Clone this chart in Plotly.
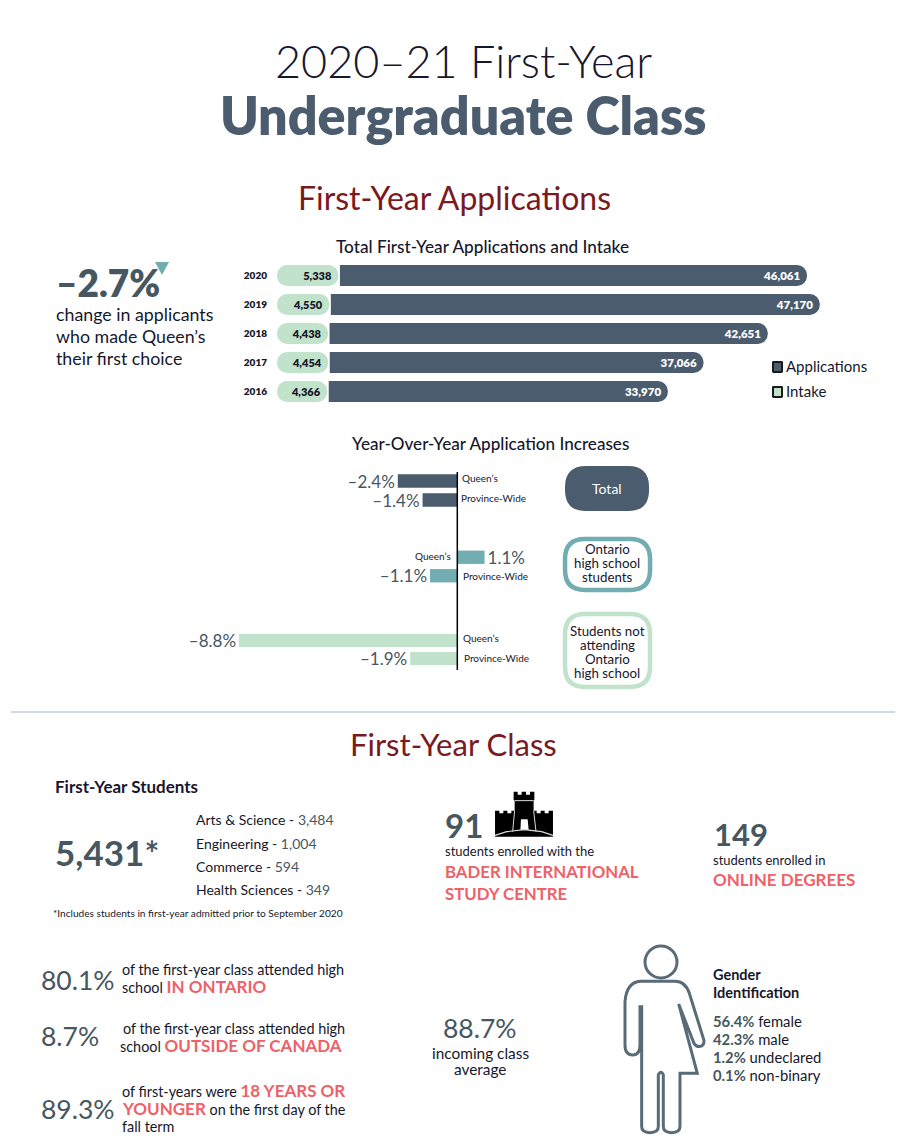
import plotly.graph_objects as go

W = 921
H = 1141

# applications chart
years = ["2020", "2019", "2018", "2017", "2016"]
applications = [46061, 47170, 42651, 37066, 33970]
intake = [5338, 4550, 4438, 4454, 4366]

# year over year chart
yoy_labels = ["Queen's", "Province-Wide"]
yoy_total = [-2.4, -1.4]
yoy_ontario = [1.1, -1.1]
yoy_other = [-8.8, -1.9]

faculties = ["Arts &amp; Science", "Engineering", "Commerce", "Health Sciences"]
faculty_counts = ["3,484", "1,004", "594", "349"]
gender_labels = ["female", "male", "undeclared", "non-binary"]
gender_values = [56.4, 42.3, 1.2, 0.1]

DARK = "#4a5c6d"
TEAL = "#72adb2"
GREEN = "#c1e2cb"
RED = "#7a1a1f"
CORAL = "#ee6168"
GREY = "#47575f"
INK = "#17172b"
FONT = "Lato"


def px(x):
    return x / W


def py(y):
    return 1 - y / H


def pct(v):
    return ("\u2013" if v < 0 else "") + "%.1f%%" % abs(v)


fig = go.Figure()

fig.add_trace(go.Bar(
    y=years, x=applications, orientation="h", xaxis="x", yaxis="y",
    marker=dict(color=DARK, cornerradius=10, line=dict(width=0)),
    text=["{:,}".format(v) for v in applications],
    textposition="inside", insidetextanchor="end", textangle=0,
    insidetextfont=dict(color="white", size=11.5, family=FONT, weight=800),
    cliponaxis=False, showlegend=False,
))
# white halo round the end of the intake pill
fig.add_trace(go.Bar(
    y=years, x=[v + 130 for v in intake], orientation="h", xaxis="x", yaxis="y",
    marker=dict(color="white", cornerradius=10, line=dict(width=0)),
    cliponaxis=False, showlegend=False,
))
# an explicit base makes plotly round both ends of the bar
fig.add_trace(go.Bar(
    y=years, x=intake, base=[0] * len(intake), orientation="h", xaxis="x", yaxis="y",
    marker=dict(color=GREEN, cornerradius=10, line=dict(width=0)),
    text=["{:,}".format(v) for v in intake],
    textposition="inside", insidetextanchor="end", textangle=0,
    insidetextfont=dict(color=INK, size=11, family=FONT, weight=800),
    cliponaxis=False, showlegend=False,
))

groups = [(yoy_total, DARK, "y2"), (yoy_ontario, TEAL, "y3"), (yoy_other, GREEN, "y4")]
for vals, col, ax in groups:
    fig.add_trace(go.Bar(
        y=yoy_labels, x=vals, orientation="h", xaxis="x2", yaxis=ax,
        marker=dict(color=col, line=dict(width=0)),
        text=[pct(v) for v in vals], textposition="outside", textangle=0, constraintext="none",
        outsidetextfont=dict(color=GREY, size=17, family=FONT),
        cliponaxis=False, showlegend=False,
    ))

annotations = []


def note(x, y, text, size=14, color=INK, anchor="left", weight=400):
    annotations.append(dict(
        xref="paper", yref="paper", x=px(x), y=py(y - 1), text=text, showarrow=False,
        xanchor=anchor, yanchor="middle", align=anchor, borderpad=0, borderwidth=0,
        font=dict(family=FONT, size=size, color=color, weight=weight),
    ))


def hot(text, size=None):
    s = "font-size:%dpx;" % size if size else ""
    return '<span style="color:%s;font-weight:700;%s">%s</span>' % (CORAL, s, text)


# headings
note(463, 62, "2020\u201321 First-Year", 45, INK, "center", 300)
note(463, 116, "Undergraduate Class", 52, DARK, "center", 800)
note(454, 198, "First-Year Applications", 32, RED, "center")
note(482, 247, "Total First-Year Applications and Intake", 17.2, INK, "center", 500)
note(490, 444, "Year-Over-Year Application Increases", 17.1, INK, "center", 500)
note(453, 745, "First-Year Class", 31, RED, "center")

# left callout
note(56, 284, "\u20132.7%", 37, GREY, "left", 800)
note(56, 315, "change in applicants", 17.8)
note(56, 337, "who made Queen\u2019s", 17.8)
note(56, 359, "their first choice", 17.8)

# legend
note(786, 367, "Applications", 15)
note(786, 392, "Intake", 15)

# year over year row labels, tied to the zero line of the chart
row_labels = [
    ("y2", 0, 3, "left", 3), ("y2", 1, 2, "left", 2),
    ("y3", 0, -4, "right", 1), ("y3", 1, 4, "left", 0),
    ("y4", 0, 4, "left", 3), ("y4", 1, 5, "left", 1),
]
for ax, i, shift, anc, yshift in row_labels:
    annotations.append(dict(
        xref="x2", yref=ax, x=0, y=yoy_labels[i], text=yoy_labels[i].replace("'", "\u2019"),
        showarrow=False, xanchor=anc, xshift=shift, yshift=yshift,
        font=dict(family=FONT, size=10, color=INK),
    ))

# pills
note(607, 489, "Total", 14, "white", "center")
for y, t in zip([550, 564, 578], ["Ontario", "high school", "students"]):
    note(607, y, t, 13.3, INK, "center")
for y, t in zip([632, 646, 660, 674], ["Students not", "attending", "Ontario", "high school"]):
    note(607, y, t, 13.3, INK, "center")

# first year students
note(55, 787, "First-Year Students", 17, INK, "left", 700)
note(55, 853, "5,431*", 35, GREY, "left", 700)
for y, f, c in zip([820, 844, 867, 890], faculties, faculty_counts):
    note(196, y, '%s - <span style="color:%s">%s</span>' % (f, GREY, c), 14)
note(53, 914, "*Includes students in first-year admitted prior to September 2020", 10.15)

# BISC and online
note(445, 826, "91", 33, GREY, "left", 700)
note(445, 852, "students enrolled with the", 13)
note(445, 872, "BADER INTERNATIONAL", 16.8, CORAL, "left", 700)
note(445, 894, "STUDY CENTRE", 16.8, CORAL, "left", 700)
note(714, 835, "149", 31, GREY, "left", 700)
note(713, 861, "students enrolled in", 13)
note(713, 880, "ONLINE DEGREES", 17, CORAL, "left", 700)

# bottom left stats
note(41, 981, "80.1%", 26.5, GREY)
note(122, 970, "of the first-year class attended high", 14.4)
note(122, 987, "school " + hot("IN ONTARIO", 17), 14.4)
note(41, 1037, "8.7%", 26.5, GREY)
note(123, 1029, "of the first-year class attended high", 14.4)
note(120, 1046, "school " + hot("OUTSIDE OF CANADA", 17), 14.4)
note(41, 1110, "89.3%", 26.5, GREY)
note(122, 1091, "of first-years were " + hot("18 YEARS OR", 17), 14.4)
note(122, 1109, hot("YOUNGER", 17) + " on the first day of the", 14.4)
note(122, 1127, "fall term", 14.4)
note(480, 1029, "88.7%", 26.5, GREY, "center")
note(480, 1054, "incoming class", 15.4, INK, "center")
note(480, 1070, "average", 15.4, INK, "center")

# gender
note(713, 975, "Gender", 14.5, INK, "left", 700)
note(713, 993, "Identification", 14.5, INK, "left", 700)
for y, l, v in zip([1022, 1040, 1058, 1076], gender_labels, gender_values):
    note(713, y, '<b style="color:%s">%.1f%%</b> %s' % (GREY, v, l), 14.8)

shapes = []


def line_path(points, close=True):
    p = "M" + " L".join("%.4f,%.4f" % (px(x), py(y)) for x, y in points)
    return p + (" Z" if close else "")


def round_rect(x0, y0, x1, y1, r):
    def pt(x, y):
        return "%.4f,%.4f" % (px(x), py(y))
    return ("M" + pt(x0 + r, y0) + " L" + pt(x1 - r, y0) + " Q" + pt(x1, y0) + " " + pt(x1, y0 + r)
            + " L" + pt(x1, y1 - r) + " Q" + pt(x1, y1) + " " + pt(x1 - r, y1)
            + " L" + pt(x0 + r, y1) + " Q" + pt(x0, y1) + " " + pt(x0, y1 - r)
            + " L" + pt(x0, y0 + r) + " Q" + pt(x0, y0) + " " + pt(x0 + r, y0) + " Z")


def add_path(path, fill="rgba(0,0,0,0)", color="rgba(0,0,0,0)", width=0):
    shapes.append(dict(type="path", xref="paper", yref="paper", path=path, fillcolor=fill,
                       line=dict(color=color, width=width), layer="below"))


# triangle next to the headline number
add_path(line_path([(155, 262), (169, 262), (162, 275)]), TEAL)

# legend swatches
add_path(round_rect(773, 362, 782, 372, 0.5), DARK, "#1a1a1a", 2)
add_path(round_rect(773, 387, 782, 397, 0.5), GREEN, "#1a1a1a", 2)

# pills behind the labels
add_path(round_rect(565, 466, 649, 511, 21), DARK)
add_path(round_rect(565, 539, 650, 590, 20), "white", TEAL, 4.5)
add_path(round_rect(565, 614, 650, 687, 20), "white", GREEN, 4.5)

# zero line of the year over year chart
shapes.append(dict(type="line", xref="x2", yref="paper", x0=0, x1=0, y0=py(472), y1=py(670),
                   line=dict(color="black", width=1.5)))

# divider
shapes.append(dict(type="line", xref="paper", yref="paper", x0=px(11), x1=px(895), y0=py(712), y1=py(712),
                   line=dict(color="#a3b4bf", width=1)))


# castle, drawn from the crop at (430,780) scale 3
def cz(x, y):
    return (430 + x / 3, 780 + y / 3)


castle = [(195, 170), (195, 92), (208, 92), (208, 100), (220, 100), (220, 92), (232, 92), (232, 100),
          (244, 100), (244, 92), (254, 92), (254, 62), (251, 60), (251, 35), (263, 35), (263, 44),
          (275, 44), (275, 35), (288, 35), (288, 44), (300, 44), (300, 35), (313, 35), (313, 60),
          (311, 62), (311, 92), (320, 92), (320, 100), (332, 100), (332, 92), (344, 92), (344, 100),
          (356, 100), (356, 92), (369, 92), (369, 170)]
add_path(line_path([cz(*p) for p in castle]), "black")
add_path(line_path([cz(*p) for p in [(271, 150), (273, 118), (293, 118), (296, 150)]]), "white")
add_path(line_path([cz(*p) for p in [(195, 166), (230, 155), (283, 149), (335, 155), (369, 166)]], False),
         color="#d9d9d9", width=1.2)
add_path(line_path([cz(*p) for p in [(254, 62), (311, 62)]], False), color="#d9d9d9", width=1)
add_path(line_path([cz(*p) for p in [(254, 92), (248, 155)]], False), color="#d9d9d9", width=1)
add_path(line_path([cz(*p) for p in [(311, 92), (318, 155)]], False), color="#d9d9d9", width=1)


# person outline, from the crop at (600,930) scale 3
def gz(x, y):
    return "%.4f,%.4f" % (px(600 + x / 3), py(930 + y / 3))


person = ("M" + gz(125, 226) + " L" + gz(125, 590) + " Q" + gz(125, 608) + " " + gz(150, 608)
          + " Q" + gz(175, 608) + " " + gz(175, 590) + " L" + gz(175, 434) + " Q" + gz(183, 420) + " " + gz(190, 434)
          + " L" + gz(190, 590) + " Q" + gz(190, 608) + " " + gz(215, 608) + " Q" + gz(240, 608) + " " + gz(240, 590)
          + " L" + gz(240, 430) + " L" + gz(292, 430) + " L" + gz(236, 222)
          + " L" + gz(282, 340) + " Q" + gz(292, 354) + " " + gz(305, 348) + " Q" + gz(315, 340) + " " + gz(311, 328)
          + " L" + gz(268, 190) + " Q" + gz(256, 154) + " " + gz(225, 154) + " L" + gz(125, 154)
          + " Q" + gz(80, 154) + " " + gz(75, 215) + " L" + gz(75, 345) + " Q" + gz(75, 375) + " " + gz(98, 375)
          + " Q" + gz(120, 375) + " " + gz(120, 345) + " L" + gz(120, 226))
add_path(person, color="#5a6b78", width=3)
shapes.append(dict(type="circle", xref="paper", yref="paper", x0=px(645), x1=px(677), y0=py(946), y1=py(978),
                   line=dict(color="#5a6b78", width=3)))

fig.update_layout(
    width=W, height=H, margin=dict(l=0, r=0, t=0, b=0),
    paper_bgcolor="white", plot_bgcolor="rgba(0,0,0,0)",
    barmode="overlay", bargap=0.28, showlegend=False,
    font=dict(family=FONT, color=INK),
    annotations=annotations, shapes=shapes,
    xaxis=dict(domain=[px(277), px(837)], range=[0, 48666], visible=False, anchor="y"),
    yaxis=dict(domain=[py(406), py(261)], type="category", categoryorder="array",
               categoryarray=years[::-1], range=[-0.5, 4.5], anchor="x",
               showline=False, showgrid=False, zeroline=False,
               ticks="outside", ticklen=7, tickcolor="rgba(0,0,0,0)",
               tickfont=dict(family=FONT, size=10, color=INK, weight=800)),
    xaxis2=dict(domain=[px(200), px(520)], range=[-10.375, 2.528], visible=False, anchor="y4"),
    yaxis2=dict(domain=[py(509.5), py(471.5)], type="category", categoryorder="array",
                categoryarray=yoy_labels[::-1], range=[-0.5, 1.5], anchor="x2", visible=False),
    yaxis3=dict(domain=[py(585), py(548)], type="category", categoryorder="array",
                categoryarray=yoy_labels[::-1], range=[-0.5, 1.5], anchor="x2", visible=False),
    yaxis4=dict(domain=[py(667.5), py(631.5)], type="category", categoryorder="array",
                categoryarray=yoy_labels[::-1], range=[-0.5, 1.5], anchor="x2", visible=False),
)

fig.write_html("out.html", config={"displayModeBar": False},
               post_script="document.body.style.margin='0';document.body.style.overflow='hidden';")
